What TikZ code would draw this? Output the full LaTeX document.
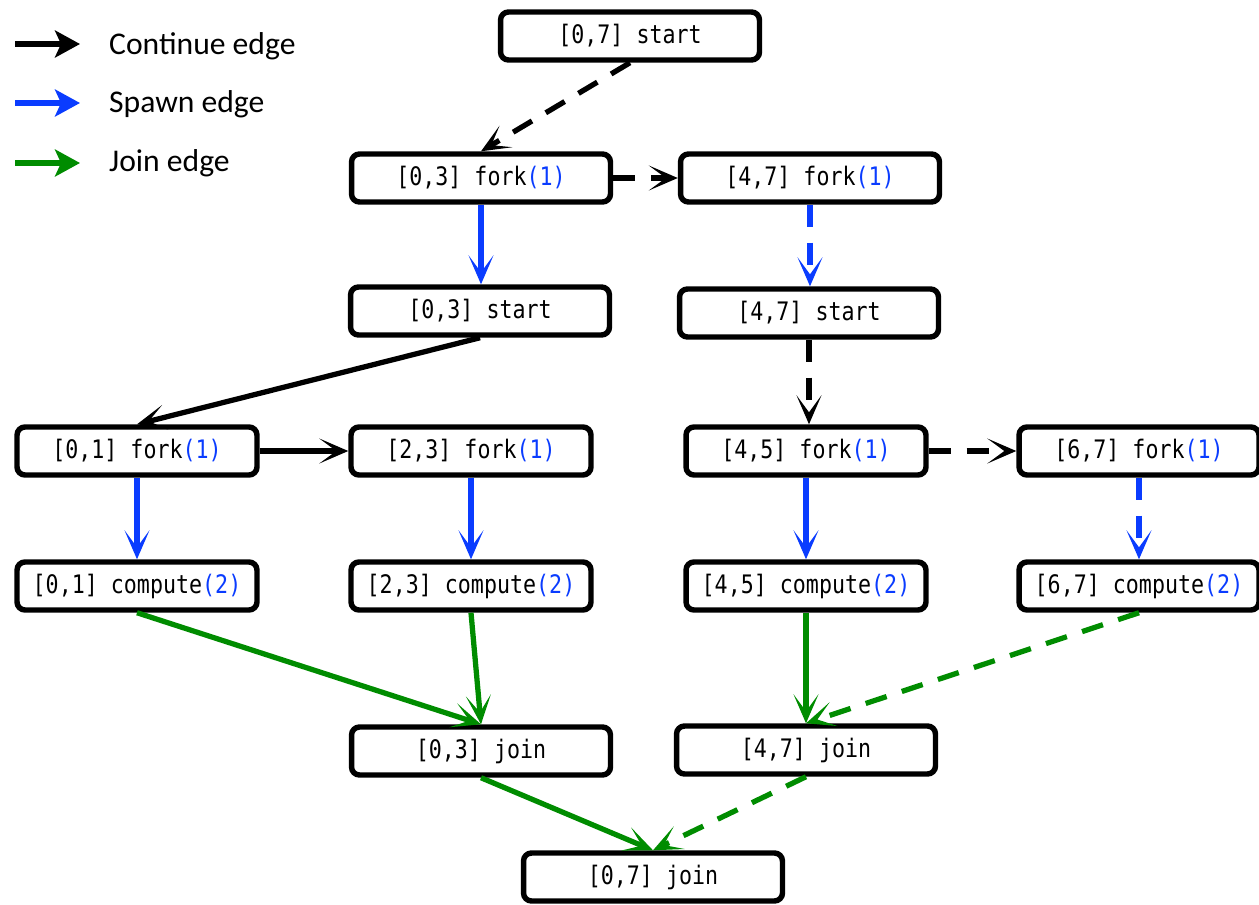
\documentclass[tikz,border=0pt]{standalone}
\usepackage{fontspec}
\usetikzlibrary{arrows.meta}
\newfontfamily\codefont[FakeStretch=0.85]{DejaVu Sans Mono}
\newfontfamily\legendfont{Carlito}
\definecolor{spawnblue}{RGB}{10,60,255}
\definecolor{joingreen}{RGB}{0,140,0}
\newcommand{\cnt}[1]{\textcolor{spawnblue}{(#1)}}

\begin{document}
\begin{tikzpicture}[x=0.02cm,y=-0.02cm,
  task/.style={draw,line width=3.1pt,rounded corners=0.16cm,fill=white,
    minimum width=5.18cm,minimum height=0.96cm,inner sep=0pt,
    font=\codefont\fontsize{14.5}{16}\selectfont},
  small/.style={task,minimum width=4.8cm},
  flow/.style={line width=3pt,-{Stealth[length=0.58cm,width=0.5cm,inset=0.34cm,line width=1.6pt]}},
  cont/.style={flow,black},
  spawn/.style={flow,spawnblue},
  joinedge/.style={flow,joingreen},
  later/.style={dash pattern=on 0.44cm off 0.32cm},
  keyarrow/.style={line width=3pt,-{Stealth[length=0.5cm,width=0.54cm,inset=0.12cm]}},
  keytext/.style={anchor=west,font=\legendfont\fontsize{18}{21}\selectfont}]
  \useasboundingbox (0,0) rectangle (1259,904);

  % Legend
  \coordinate (kcont) at (15,44);
  \coordinate (kspawn) at (15,103);
  \coordinate (kjoin) at (15,163);
  \draw[keyarrow] (kcont) -- ++(65,0);
  \draw[keyarrow,spawnblue] (kspawn) -- ++(65,0);
  \draw[keyarrow,joingreen] (kjoin) -- ++(65,0);
  \node[keytext] (tcont) at (103,46) {Continue edge};
  \node[keytext] (tspawn) at (103,104) {Spawn edge};
  \node[keytext] (tjoin) at (103,163) {Join edge};

  % Top
  \node[task] (start07) at (630,36) {[0,7] start};
  \node[task] (fork03) at (481,178) {[0,3] fork\cnt{1}};
  \node[task] (fork47) at (810,178) {[4,7] fork\cnt{1}};
  \node[task] (start03) at (480,311) {[0,3] start};
  \node[task] (start47) at (809,313) {[4,7] start};

  % Leaves
  \node[small] (fork01) at (137,451) {[0,1] fork\cnt{1}};
  \node[small] (fork23) at (471,451) {[2,3] fork\cnt{1}};
  \node[small] (fork45) at (806,451) {[4,5] fork\cnt{1}};
  \node[small] (fork67) at (1139,451) {[6,7] fork\cnt{1}};
  \node[small] (comp01) at (137,586) {[0,1] compute\cnt{2}};
  \node[small] (comp23) at (471,586) {[2,3] compute\cnt{2}};
  \node[small] (comp45) at (806,586) {[4,5] compute\cnt{2}};
  \node[small] (comp67) at (1139,586) {[6,7] compute\cnt{2}};

  % Joins
  \node[task] (join03) at (481,751) {[0,3] join};
  \node[task] (join47) at (806,750) {[4,7] join};
  \node[task] (join07) at (653,877) {[0,7] join};

  % Continue edges
  \draw[cont,later] (start07.south) -- (fork03.north);
  \draw[cont,later] (fork03.east) -- (fork47.west);
  \draw[cont] (start03.south) -- (fork01.north);
  \draw[cont,later] (start47.south) -- (start47.south |- fork45.north);
  \draw[cont] (fork01.east) -- (fork23.west);
  \draw[cont,later] (fork45.east) -- (fork67.west);

  % Spawn edges
  \draw[spawn] (fork03.south) -- (fork03.south |- start03.north);
  \draw[spawn,later] (fork47.south) -- (fork47.south |- start47.north);
  \draw[spawn] (fork01.south) -- (comp01.north);
  \draw[spawn] (fork23.south) -- (comp23.north);
  \draw[spawn] (fork45.south) -- (comp45.north);
  \draw[spawn,later] (fork67.south) -- (comp67.north);

  % Join edges
  \draw[joinedge] (comp01.south) -- (join03.north);
  \draw[joinedge] (comp23.south) -- (join03.north);
  \draw[joinedge] (comp45.south) -- (join47.north);
  \draw[joinedge,later] (comp67.south) -- (join47.north);
  \draw[joinedge] (join03.south) -- (join07.north);
  \draw[joinedge,later] (join47.south) -- (join07.north);

\end{tikzpicture}
\end{document}
